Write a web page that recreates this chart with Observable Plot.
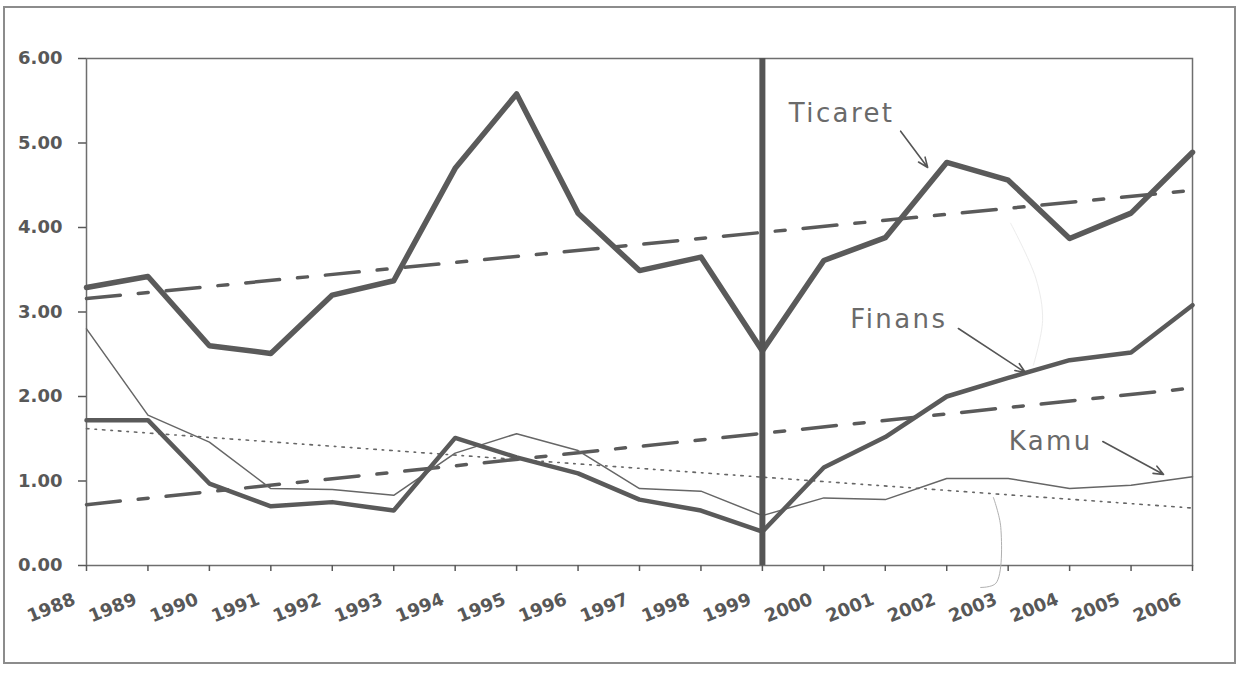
<!DOCTYPE html>
<html><head><meta charset="utf-8">
<script src="https://cdn.jsdelivr.net/npm/d3@7"></script>
<script src="https://cdn.jsdelivr.net/npm/@observablehq/plot@0.6"></script>
<style>
body{margin:0;background:#fff;}
#wrap{position:relative;width:1241px;height:679px;overflow:hidden;}
#border{position:absolute;left:3px;top:6px;width:1229px;height:654px;border:2px solid #8c8c8c;}
#chart{position:absolute;left:0;top:0;}
</style></head><body>
<div id="wrap"><div id="border"></div><div id="chart"></div></div>
<script>
const years = [1988,1989,1990,1991,1992,1993,1994,1995,1996,1997,1998,1999,2000,2001,2002,2003,2004,2005,2006];
const ticaret = [3.29,3.42,2.60,2.51,3.20,3.37,4.70,5.58,4.17,3.49,3.65,2.54,3.61,3.88,4.77,4.56,3.87,4.17,4.89];
const finans  = [1.72,1.72,0.97,0.70,0.75,0.65,1.51,1.28,1.09,0.78,0.65,0.40,1.16,1.52,2.00,2.22,2.43,2.52,3.08];
const kamu    = [2.80,1.78,1.46,0.91,0.90,0.83,1.33,1.56,1.36,0.91,0.88,0.59,0.80,0.78,1.03,1.03,0.91,0.95,1.05];

const trendYears   = [1988, 2006];
const ticaretTrend = [3.16, 4.44];
const finansTrend  = [0.72, 2.10];
const kamuTrend    = [1.62, 0.68];

const breakYear = [1999];
const yTicks = [0,1,2,3,4,5,6];

const labels = ["Ticaret","Finans","Kamu"];
const labelX = [1999.43, 2000.43, 2003.01];
const labelY = [5.35, 2.905, 1.47];
const arrowX1 = [2001.25, 2002.19, 2004.54];
const arrowY1 = [5.14, 2.805, 1.467];
const arrowX2 = [2001.69, 2003.28, 2005.53];
const arrowY2 = [4.71, 2.284, 1.077];

const noteX = [2002.76, 2002.88, 2002.80, 2002.55];
const noteY = [0.805, 0.45, -0.21, -0.26];
const faintX = [2003.04, 2003.45, 2003.56, 2003.41];
const faintY = [4.05, 3.40, 2.90, 2.37];

const toRows = (xs, ys) => xs.map((x, i) => ({x, y: ys[i]}));
const ink = "#5a5a5a";

const chart = Plot.plot({
  width: 1241, height: 679,
  marginLeft: 86, marginRight: 49, marginTop: 58, marginBottom: 114,
  x: {domain: [1988, 2006]},
  y: {domain: [0, 6]},
  style: {fontFamily: "'DejaVu Sans', Verdana, sans-serif", background: "transparent", overflow: "visible"},
  marks: [
    Plot.frame({stroke: "#6e6e6e", strokeWidth: 1.5}),
    Plot.axisY({ticks: yTicks, tickFormat: d => d.toFixed(2), tickSize: 8, tickPadding: 16,
      fontSize: 18, fontWeight: "bold", color: "#585858", strokeWidth: 1.5, label: null}),
    Plot.axisX({ticks: years, tickSize: 6, tickFormat: () => "", color: "#585858", strokeWidth: 1.5, label: null}),
    Plot.text(years, {x: d => d, text: d => String(d), frameAnchor: "bottom", textAnchor: "end", lineAnchor: "middle",
      rotate: -22, dx: -12, dy: 33, fontSize: 18, fontWeight: "bold", fill: "#585858"}),
    Plot.line(toRows(noteX, noteY), {x: "x", y: "y", curve: "catmull-rom", stroke: "#b0b0b0", strokeWidth: 1}),
    Plot.line(toRows(faintX, faintY), {x: "x", y: "y", curve: "catmull-rom", stroke: "#ececec", strokeWidth: 1}),
    Plot.line(toRows(trendYears, kamuTrend), {x: "x", y: "y", stroke: "#666", strokeWidth: 1.6, strokeDasharray: "2.5,6,1.5,6"}),
    Plot.line(toRows(trendYears, ticaretTrend), {x: "x", y: "y", stroke: ink, strokeWidth: 3.5, strokeDasharray: "34,18,10,18"}),
    Plot.line(toRows(trendYears, finansTrend), {x: "x", y: "y", stroke: ink, strokeWidth: 3.5, strokeDasharray: "34,18,10,18"}),
    Plot.line(toRows(years, kamu), {x: "x", y: "y", stroke: "#666", strokeWidth: 1.5}),
    Plot.line(toRows(years, finans), {x: "x", y: "y", stroke: ink, strokeWidth: 4.5}),
    Plot.line(toRows(years, ticaret), {x: "x", y: "y", stroke: ink, strokeWidth: 5.5}),
    Plot.ruleX(breakYear, {x: d => d, y1: 0, y2: 6, stroke: "#555", strokeWidth: 6}),
    Plot.arrow(labels, {x1: (d, i) => arrowX1[i], y1: (d, i) => arrowY1[i], x2: (d, i) => arrowX2[i], y2: (d, i) => arrowY2[i],
      stroke: "#555", strokeWidth: 1.6, headLength: 10, headAngle: 45}),
    Plot.text(labels, {x: (d, i) => labelX[i], y: (d, i) => labelY[i], text: d => d, textAnchor: "start", lineAnchor: "middle",
      fontSize: 26, fill: "#6a6a6a"})
  ]
});
d3.select(chart).selectAll("text")
  .filter(function() { return labels.includes(this.textContent); })
  .style("letter-spacing", "2.4px");
document.getElementById("chart").appendChild(chart);
</script>
</body></html>
